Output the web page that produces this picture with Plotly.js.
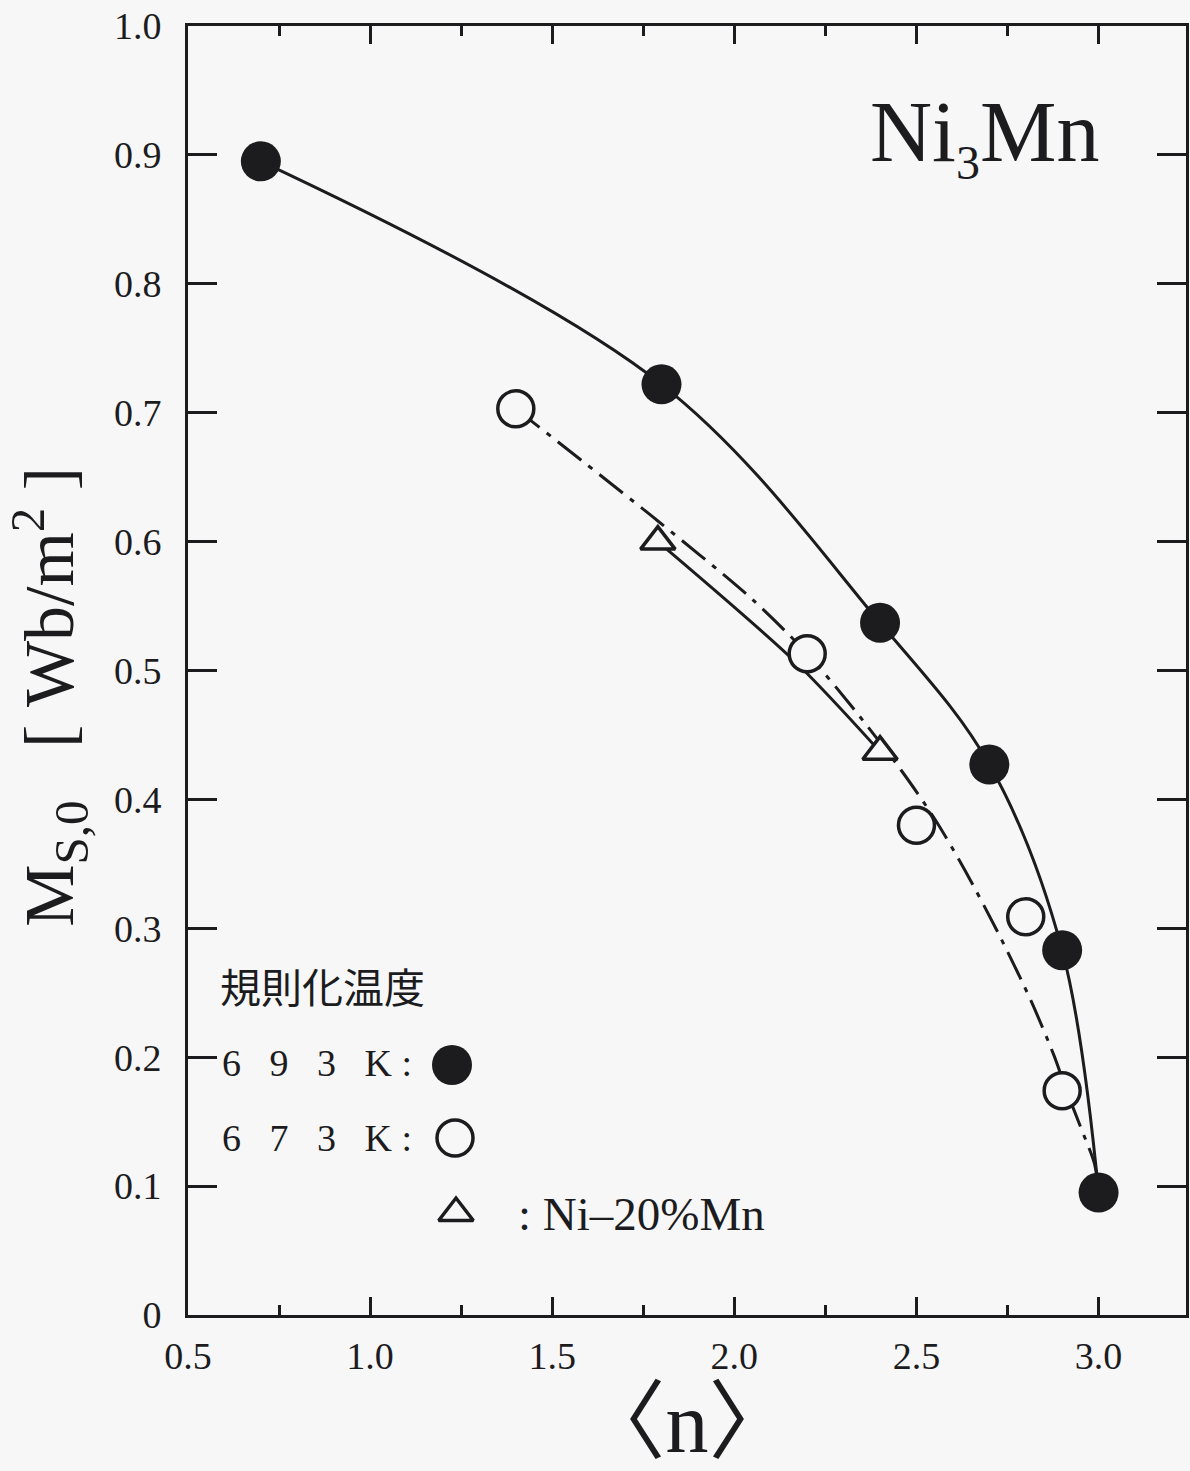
<!DOCTYPE html>
<html>
<head>
<meta charset="utf-8">
<script src="https://cdn.plot.ly/plotly-3.0.1.min.js"></script>
<style>
  html, body { margin: 0; padding: 0; background: #f7f7f8; }
  #chart { width: 1190px; height: 1471px; }
</style>
</head>
<body>
<div id="chart"></div>
<script>
// Saturation magnetization M_S,0 of Ni3Mn against the mean number <n> of Mn neighbours.

// Ordering anneal at 693 K (filled circles)
const n693 = [0.70, 1.80, 2.40, 2.70, 2.90, 3.00];
const ms693 = [0.895, 0.722, 0.537, 0.427, 0.283, 0.095];

// Ordering anneal at 673 K (open circles)
const n673 = [1.40, 2.20, 2.50, 2.80, 2.90];
const ms673 = [0.703, 0.513, 0.380, 0.309, 0.174];

// Ni-20%Mn alloy (open triangles)
const nNi20Mn = [1.79, 2.40];
const msNi20Mn = [0.600, 0.437];

// Hand-drawn guide curve for the 673 K series (dash-dot), ends at the 693 K point at n = 3
const guide673N = [1.40, 1.79, 2.05, 2.20, 2.314, 2.457, 2.552, 2.633, 2.725, 2.814, 2.878, 2.912, 2.949, 2.989, 3.00];
const guide673M = [0.703, 0.616, 0.555, 0.513, 0.475, 0.423, 0.384, 0.345, 0.296, 0.244, 0.201, 0.174, 0.147, 0.117, 0.095];

// Guide line through the Ni-20%Mn points
const guideNiMnN = [1.79, 2.17, 2.40];
const guideNiMnM = [0.600, 0.506, 0.437];

// Tick labels
const xTickVals = [0.5, 1.0, 1.5, 2.0, 2.5, 3.0];
const xTickText = ['0.5', '1.0', '1.5', '2.0', '2.5', '3.0'];
const yTickVals = [0, 0.1, 0.2, 0.3, 0.4, 0.5, 0.6, 0.7, 0.8, 0.9, 1.0];
const yTickText = ['0', '0.1', '0.2', '0.3', '0.4', '0.5', '0.6', '0.7', '0.8', '0.9', '1.0'];

// Text
const legendTitle = '規則化温度';
const label693 = '6\u00a0\u00a0\u00a09\u00a0\u00a0\u00a03\u00a0\u00a0\u00a0K\u00a0:';
const label673 = '6\u00a0\u00a0\u00a07\u00a0\u00a0\u00a03\u00a0\u00a0\u00a0K\u00a0:';
const labelNiMn = ':\u00a0Ni\u201320%Mn';

// ---- styling & layout ----
const ink = '#1c1c1e';
const bg = '#f7f7f8';
const serif = 'Liberation Serif, DejaVu Serif, serif';
const cjk = 'Noto Sans CJK JP, Noto Sans CJK SC, sans-serif';

const W = 1190, H = 1471;
const mar = { l: 188, r: 4, t: 26, b: 156 };
const xRange = [0.5, 3.24];
const yRange = [0, 1];
const plotW = W - mar.l - mar.r;
const plotH = H - mar.t - mar.b;

// page pixel -> paper / data coordinates
const paperX = px => (px - mar.l) / plotW;
const paperY = py => (H - mar.b - py) / plotH;
const dataX = px => xRange[0] + paperX(px) * (xRange[1] - xRange[0]);
const dataY = py => yRange[0] + paperY(py) * (yRange[1] - yRange[0]);

const circleSize = 40;
const openSize = 36;
const triSize = 30;
const strokeW = 3.5;

// positions of the legend symbols (page pixels)
const keyFilled = [452, 1065];
const keyOpen = [455, 1138];
const keyTri = [456, 1213];

const traces = [
  { // 693 K guide
    x: n693, y: ms693, mode: 'lines', type: 'scatter',
    line: { color: ink, width: 3, shape: 'spline', smoothing: 1 },
    hoverinfo: 'skip', showlegend: false
  },
  { // 673 K guide
    x: guide673N, y: guide673M, mode: 'lines', type: 'scatter',
    line: { color: ink, width: 3, dash: '30px,9px,5px,9px', shape: 'spline', smoothing: 0.8 },
    hoverinfo: 'skip', showlegend: false
  },
  { // Ni-20%Mn guide
    x: guideNiMnN, y: guideNiMnM, mode: 'lines', type: 'scatter',
    line: { color: ink, width: 3, shape: 'spline', smoothing: 0.8 },
    hoverinfo: 'skip', showlegend: false
  },
  {
    x: n693, y: ms693, mode: 'markers', type: 'scatter', name: '693 K',
    marker: { symbol: 'circle', size: circleSize, color: ink, opacity: 1, line: { width: 0 } },
    cliponaxis: false, showlegend: false
  },
  {
    x: n673, y: ms673, mode: 'markers', type: 'scatter', name: '673 K',
    marker: { symbol: 'circle', size: openSize, color: bg, opacity: 1, line: { width: strokeW, color: ink } },
    cliponaxis: false, showlegend: false
  },
  {
    x: nNi20Mn, y: msNi20Mn, mode: 'markers', type: 'scatter', name: 'Ni-20%Mn',
    marker: { symbol: 'triangle-up', size: triSize, color: bg, opacity: 1, line: { width: strokeW, color: ink } },
    cliponaxis: false, showlegend: false
  },
  { // legend symbols
    x: [dataX(keyFilled[0]), dataX(keyOpen[0]), dataX(keyTri[0])],
    y: [dataY(keyFilled[1]), dataY(keyOpen[1]), dataY(keyTri[1])],
    mode: 'markers', type: 'scatter', hoverinfo: 'skip', showlegend: false,
    marker: {
      symbol: ['circle', 'circle', 'triangle-up'],
      size: [circleSize, openSize, triSize],
      color: [ink, bg, bg],
      opacity: 1,
      line: { width: [0, strokeW, strokeW], color: ink }
    }
  }
];

const axisCommon = {
  showgrid: false, zeroline: false,
  showline: true, linewidth: 3, linecolor: ink,
  ticks: 'inside', tickwidth: 3, tickcolor: ink,
  mirror: 'ticks',
  tickfont: { family: serif, size: 38, color: ink }
};

const layout = {
  width: W, height: H,
  margin: mar,
  paper_bgcolor: bg, plot_bgcolor: bg,
  showlegend: false,
  xaxis: Object.assign({}, axisCommon, {
    range: xRange,
    tickmode: 'array', tickvals: xTickVals, ticktext: xTickText,
    ticklen: 18, ticklabelstandoff: 5,
    minor: { dtick: 0.25, tick0: 0.5, ticks: 'inside', ticklen: 10, tickwidth: 3, tickcolor: ink, showgrid: false },
    title: { text: '\u3008n\u3009', font: { family: serif + ', ' + cjk, size: 86, color: ink }, standoff: 64 }
  }),
  yaxis: Object.assign({}, axisCommon, {
    range: yRange,
    tickmode: 'array', tickvals: yTickVals, ticktext: yTickText,
    ticklen: 29, ticklabelstandoff: 16,
    title: {
      text: 'M<sub>S,0</sub>\u00a0\u00a0\u00a0[\u00a0Wb/m<sup>2</sup>\u00a0]<span>\u00a0\u00a0\u00a0</span>',
      font: { family: serif, size: 70, color: ink }, standoff: 30
    }
  }),
  annotations: [
    {
      text: 'Ni<sub><span style="font-size:48px">3</span></sub>Mn', xref: 'paper', yref: 'paper',
      x: paperX(984), y: paperY(137), xanchor: 'center', yanchor: 'middle',
      showarrow: false, font: { family: serif, size: 86, color: ink }
    },
    {
      text: legendTitle, xref: 'paper', yref: 'paper',
      x: paperX(218), y: paperY(985), xanchor: 'left', yanchor: 'middle',
      showarrow: false, font: { family: cjk, size: 41, color: ink }
    },
    {
      text: label693, xref: 'paper', yref: 'paper',
      x: paperX(220), y: paperY(1063), xanchor: 'left', yanchor: 'middle',
      showarrow: false, font: { family: serif, size: 38, color: ink }
    },
    {
      text: label673, xref: 'paper', yref: 'paper',
      x: paperX(220), y: paperY(1138), xanchor: 'left', yanchor: 'middle',
      showarrow: false, font: { family: serif, size: 38, color: ink }
    },
    {
      text: labelNiMn, xref: 'paper', yref: 'paper',
      x: paperX(516), y: paperY(1214), xanchor: 'left', yanchor: 'middle',
      showarrow: false, font: { family: serif, size: 47, color: ink }
    }
  ]
};

Plotly.newPlot('chart', traces, layout, { displayModeBar: false, staticPlot: true });
</script>
</body>
</html>
